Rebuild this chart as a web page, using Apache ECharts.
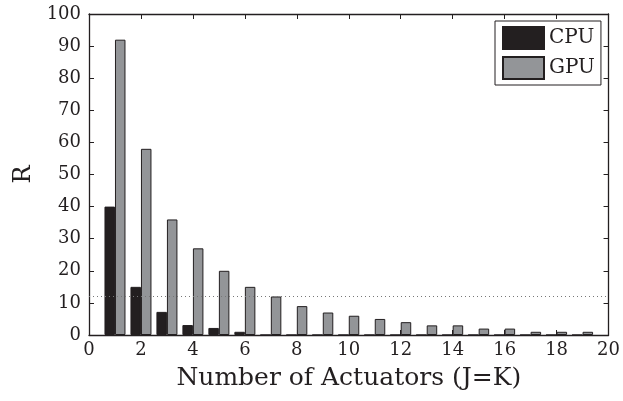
<!DOCTYPE html>
<html><head><meta charset="utf-8">
<script src="https://cdn.jsdelivr.net/npm/echarts@6/dist/echarts.min.js"></script>
<style>html,body{margin:0;padding:0;background:#fff}#c{width:623px;height:401px}</style>
</head><body><div id="c"></div>
<script>
const actuators = [1,2,3,4,5,6,7,8,9,10,11,12,13,14,15,16,17,18,19];
const cpu = [40,15,7.2,3.1,2.2,1,0,0,0,0,0,0,0,0,0,0,0,0,0];
const gpu = [92,58,36,27,20,15,12,9,7,6,5,4,3,3,2,2,1,1,1];
const refLine = 12;
const xTicks = [0,2,4,6,8,10,12,14,16,18,20];
const yTicks = [0,10,20,30,40,50,60,70,80,90,100];

const ink = '#231f20';
const font = 'DejaVu Serif';
const chart = echarts.init(document.getElementById('c'));
const axCommon = () => ({
  axisLine:{show:true,onZero:false,lineStyle:{color:ink,width:1.3}},
  axisTick:{show:true,inside:true,length:5,lineStyle:{color:ink,width:1}},
  splitLine:{show:false}
});
chart.setOption({
  animation:false,
  backgroundColor:'#fff',
  grid:{left:89,right:13,top:14,bottom:66},
  legend:{
    orient:'vertical', left:495, top:21,
    padding:[5,6,5,7], itemGap:6, itemWidth:41, itemHeight:22, icon:'rect',
    borderColor:ink, borderWidth:1, backgroundColor:'#fff',
    textStyle:{fontFamily:font,fontSize:20,color:ink},
    data:['CPU','GPU']
  },
  xAxis:[
    Object.assign({type:'value',min:0,max:20,interval:2,position:'bottom',
      name:'Number of Actuators (J=K)',nameLocation:'middle',nameGap:31,
      nameTextStyle:{fontFamily:font,fontSize:25,color:ink},
      axisLabel:{fontFamily:font,fontSize:18,color:ink,margin:6,
        formatter:v=>xTicks.includes(v)?String(v):''}},axCommon()),
    Object.assign({type:'value',min:0,max:20,interval:2,position:'top',axisLabel:{show:false}},axCommon())
  ],
  yAxis:[
    Object.assign({type:'value',min:0,max:100,interval:10,position:'left',
      name:'R',nameLocation:'middle',nameGap:53,nameRotate:90,
      nameTextStyle:{fontFamily:font,fontSize:24,color:ink},
      axisLabel:{fontFamily:font,fontSize:18,color:ink,margin:8,
        formatter:v=>yTicks.includes(v)?String(v):''}},axCommon()),
    Object.assign({type:'value',min:0,max:100,interval:10,position:'right',axisLabel:{show:false}},axCommon())
  ],
  series:[
    {name:'CPU',type:'bar',xAxisIndex:0,yAxisIndex:0,barWidth:10.5,barGap:'0%',
      data:actuators.map((x,i)=>[x,cpu[i]]),
      itemStyle:{color:ink,borderColor:ink,borderWidth:1},
      markLine:{silent:true,symbol:'none',label:{show:false},
        lineStyle:{color:'#777',type:[1,3],width:1},data:[{yAxis:refLine}]}},
    {name:'GPU',type:'bar',xAxisIndex:0,yAxisIndex:0,barWidth:10.5,barGap:'0%',
      data:actuators.map((x,i)=>[x,gpu[i]]),
      itemStyle:{color:'#939598',borderColor:ink,borderWidth:1}}
  ]
});
</script></body></html>
